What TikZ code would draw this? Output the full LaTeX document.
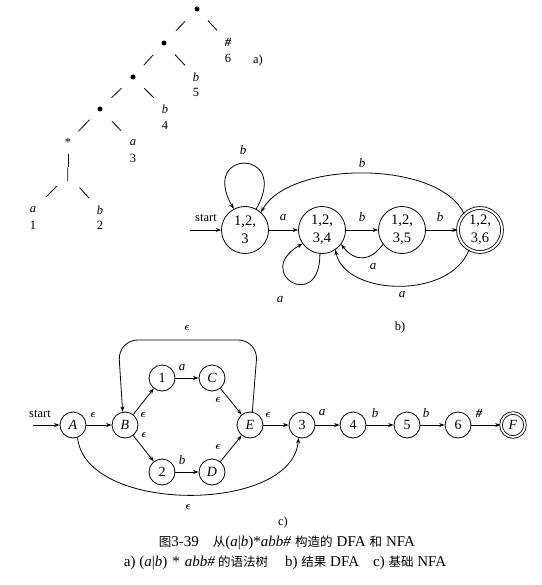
\documentclass[tikz,border=0pt]{standalone}
\usepackage{fontspec}
\usepackage{amsmath}
\setmainfont{Liberation Serif}
\newfontfamily\cjk{Noto Sans CJK SC}
\usetikzlibrary{arrows.meta}
\newcommand{\cj}[1]{{\fontsize{12.5}{14}\selectfont\cjk #1}}
\newcommand{\eps}{$\boldsymbol{\epsilon}$}
\begin{document}
\begin{tikzpicture}[x=1pt,y=1pt,
  lbl/.style={font=\fontsize{12.5}{13}\selectfont, inner sep=0pt},
  ilbl/.style={font=\fontsize{12.5}{13}\selectfont\itshape, inner sep=0pt},
  elbl/.style={font=\fontsize{13}{14}\selectfont\itshape, inner sep=0pt},
  epsl/.style={font=\fontsize{11}{12}\selectfont, inner sep=0pt},
  tdot/.style={circle,fill,inner sep=0pt,minimum size=5pt},
  tedge/.style={line width=0.8pt},
  dstate/.style={circle,draw,line width=0.8pt,minimum size=47pt,inner sep=0pt,align=center,font=\fontsize{14.5}{18}\selectfont},
  nstate/.style={circle,draw,line width=0.8pt,minimum size=26pt,inner sep=0pt,font=\fontsize{14}{14}\selectfont},
  tr/.style={-{Stealth[length=5.5pt,width=4pt]},line width=0.8pt},
  ]
\useasboundingbox (0,0) rectangle (541,-585);

% ---------------- a) syntax tree
\node[tdot] (t1) at (197,-9) {};
\node[tdot] (t2) at (164,-43) {};
\node[tdot] (t3) at (133,-77) {};
\node[tdot] (t4) at (100,-109) {};
\node[lbl] (star) at (68,-142) {*};
\node[font=\fontsize{15}{15}\selectfont, inner sep=0pt] (or) at (68,-175) {|};
\node[lbl,font=\fontsize{12.5}{13}\selectfont\bfseries\itshape] (l6) at (228,-42) {\#};
\node[lbl] (n6) at (228,-58) {6};
\node[ilbl] (l5) at (196,-77) {b};
\node[lbl] (n5) at (196,-92) {5};
\node[ilbl] (l4) at (165,-109) {b};
\node[lbl] (n4) at (165,-125) {4};
\node[ilbl] (l3) at (133,-143) {a};
\node[lbl] (n3) at (133,-158) {3};
\node[ilbl] (l1) at (33,-210) {a};
\node[lbl] (n1) at (33,-225) {1};
\node[ilbl] (l2) at (100,-210) {b};
\node[lbl] (n2) at (100,-225) {2};
\node[lbl] (capa) at (258,-60) {a)};

\draw[tedge,shorten <=17pt,shorten >=17pt] (t1.center) -- (t2.center);
\draw[tedge,shorten <=16pt,shorten >=16pt] (t1.center) -- (l6.center);
\draw[tedge,shorten <=16pt,shorten >=16pt] (t2.center) -- (t3.center);
\draw[tedge,shorten <=16pt,shorten >=16pt] (t2.center) -- (l5.center);
\draw[tedge,shorten <=16pt,shorten >=16pt] (t3.center) -- (t4.center);
\draw[tedge,shorten <=16pt,shorten >=16pt] (t3.center) -- (l4.center);
\draw[tedge,shorten <=15pt,shorten >=15pt] (t4.center) -- (star.center);
\draw[tedge,shorten <=17pt,shorten >=17pt] (t4.center) -- (l3.center);
\draw[tedge,shorten <=12pt,shorten >=8pt] (star.center) -- (or.center);
\draw[tedge,shorten <=16pt,shorten >=19pt] (or.center) -- (l1.center);
\draw[tedge,shorten <=17pt,shorten >=16pt] (or.center) -- (l2.center);

% ---------------- b) DFA
\node[dstate] (d1) at (245,-230) {1,2,\\3};
\node[dstate] (d2) at (322,-230) {1,2,\\3,4};
\node[dstate] (d3) at (402,-230) {1,2,\\3,5};
\node[dstate,double,double distance=2pt,minimum size=44pt] (d4) at (480,-230) {1,2,\\3,6};
\coordinate (ds) at (190,-230);
\draw[tr] (ds) -- (d1) node[lbl,font=\fontsize{12.5}{13}\selectfont] at (206,-218) {start};
\draw[tr] (d1) -- (d2) node[elbl] at (283,-218) {a};
\draw[tr] (d2) -- (d3) node[elbl] at (362,-217) {b};
\draw[tr] (d3) -- (d4) node[elbl] at (440,-217) {b};
\draw[tr] (d1.62) .. controls +(60:70) and +(120:70) .. (d1.118)
   node[elbl] at (243,-150) {b};
\draw[tr] (d4.135) .. controls (440,-160) and (290,-160) .. (d1.48)
   node[elbl] at (362,-163) {b};
\draw[tr] (d2.265) .. controls +(-90:60) and +(-150:58) .. (d2.215)
   node[elbl] at (280,-300) {a};
\draw[tr] (d3.217) .. controls (370,-262) and (355,-262) .. (d2.-37)
   node[elbl] at (373,-267) {a};
\draw[tr] (d4.241) .. controls (450,-300) and (345,-296) .. (d2.-56)
   node[elbl] at (402,-295) {a};
\node[lbl] (capb) at (400,-327) {b)};

% ---------------- c) NFA
\node[nstate] (A) at (73,-425) {\textit{A}};
\node[nstate] (B) at (125,-425) {\textit{B}};
\node[nstate] (s1) at (162,-378) {1};
\node[nstate] (C) at (212,-378) {\textit{C}};
\node[nstate] (s2) at (162,-472) {2};
\node[nstate] (D) at (212,-472) {\textit{D}};
\node[nstate] (E) at (250,-425) {\textit{E}};
\node[nstate] (s3) at (302,-425) {3};
\node[nstate] (s4) at (353,-425) {4};
\node[nstate] (s5) at (407,-425) {5};
\node[nstate] (s6) at (458,-425) {6};
\node[nstate,double,double distance=1.8pt,minimum size=24pt] (F) at (513,-425) {\textit{F}};
\coordinate (ns) at (33,-425);
\draw[tr] (ns) -- (A) node[lbl,font=\fontsize{12.5}{13}\selectfont] at (40,-414) {start};
\draw[tr] (A) -- (B) node[epsl] at (93,-415) {\eps};
\draw[tr] (B) -- (s1) node[epsl] at (143,-415) {\eps};
\draw[tr] (B) -- (s2) node[epsl] at (144,-435) {\eps};
\draw[tr] (s1) -- (C) node[elbl] at (182,-368) {a};
\draw[tr] (s2) -- (D) node[elbl] at (182,-460) {b};
\draw[tr] (C) -- (E) node[epsl] at (218,-400) {\eps};
\draw[tr] (D) -- (E) node[epsl] at (218,-447) {\eps};
\draw[tr] (E) -- (s3) node[epsl] at (268,-415) {\eps};
\draw[tr] (s3) -- (s4) node[elbl] at (322,-413) {a};
\draw[tr] (s4) -- (s5) node[elbl] at (375,-413) {b};
\draw[tr] (s5) -- (s6) node[elbl] at (426,-413) {b};
\draw[tr] (s6) -- (F) node[lbl,font=\fontsize{12.5}{13}\selectfont\bfseries\itshape] at (479,-413) {\#};
\draw[tr,rounded corners=20pt] (E.80) -- (258,-340) -- (118,-340) -- (B.100);
\node[epsl] (etop) at (187,-328) {\eps};
\draw[tr] (A.290) .. controls (85,-514) and (292,-514) .. (s3.255);
\node[epsl] (ebot) at (188,-507) {\eps};
\node[lbl] (capc) at (283,-522) {c)};

% ---------------- caption
\node[font=\fontsize{15}{16}\selectfont, inner sep=0pt] (cap1) at (287,-543)
  {\cj{图}3-39\hspace{14pt}\cj{从}(\textit{a}|\textit{b})*\textit{abb\#}\hspace{4pt}\cj{构造的}\hspace{4pt}DFA\hspace{4pt}\cj{和}\hspace{4pt}NFA};
\node[font=\fontsize{15}{16}\selectfont, inner sep=0pt] (cap2) at (285,-563)
  {a)\hspace{4pt}(\textit{a}|\textit{b})\hspace{5pt}*\hspace{5pt}\textit{abb\#}\hspace{3pt}\cj{的语法树}\hspace{17pt}b) \cj{结果} DFA\hspace{14pt}c) \cj{基础} NFA};
\end{tikzpicture}
\end{document}
